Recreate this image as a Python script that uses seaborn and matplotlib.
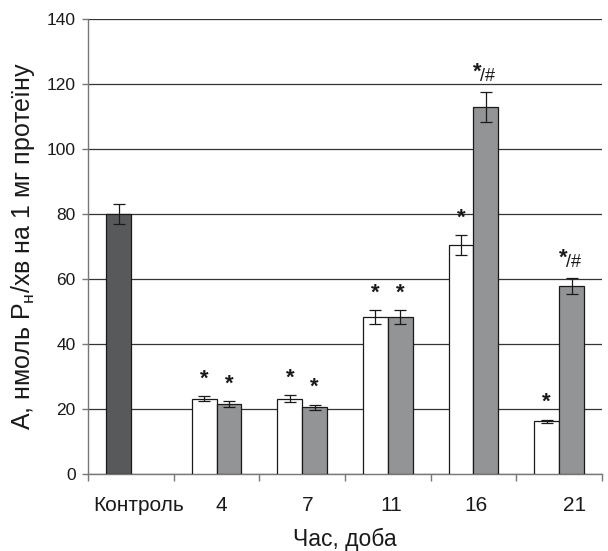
import numpy as np
import pandas as pd
import matplotlib
matplotlib.use("Agg")
import matplotlib.pyplot as plt
import matplotlib.transforms as mtransforms
import seaborn as sns

categories = ["Контроль", "4", "7", "11", "16", "21"]
series = ["A", "B"]
values_a = [80.0, 23.1, 23.1, 48.3, 70.5, 16.2]
errors_a = [3.0, 0.8, 1.1, 2.1, 3.0, 0.5]
values_b = [np.nan, 21.5, 20.5, 48.3, 113.0, 57.9]
errors_b = [np.nan, 0.8, 0.8, 2.1, 4.6, 2.4]
labels_a = ["", "*", "*", "*", "*", "*"]
labels_b = ["", "*", "*", "*", "*/#", "*/#"]

sns.set_theme(style="white")
plt.rcParams["font.family"] = ["Liberation Sans", "DejaVu Sans"]
plt.rcParams["mathtext.fontset"] = "custom"
plt.rcParams["mathtext.rm"] = "Liberation Sans"

rows = []
for c, va, ea, la, vb, eb, lb in zip(categories, values_a, errors_a, labels_a, values_b, errors_b, labels_b):
    rows.append(dict(cat=c, ser="A", val=va, err=ea, lab=la))
    if not np.isnan(vb):
        rows.append(dict(cat=c, ser="B", val=vb, err=eb, lab=lb))
df = pd.DataFrame(rows)

fig = plt.figure(figsize=(6.08, 5.51), dpi=100)
ax = fig.add_axes([0.145, 0.14, 0.845, 0.825])

sns.barplot(data=df, x="cat", y="val", hue="ser", order=categories, hue_order=series,
            palette={"A": "white", "B": "#939497"}, width=0.58, dodge=True,
            edgecolor="#1a1a1a", linewidth=0.9, errorbar=None, legend=False, ax=ax, zorder=3)

ink = "#1a1a1a"
lookup = {(r.cat, r.ser): r for r in df.itertuples()}
for ser, cont in zip(series, ax.containers):
    for bar in cont:
        h = bar.get_height()
        if np.isnan(h) or h == 0:
            continue
        xc = bar.get_x() + bar.get_width() / 2
        ci = int(round(xc))
        r = lookup.get((categories[ci], ser))
        if r is None:
            continue
        if r.cat == "Контроль":
            bar.set_facecolor("#58595b")
        ax.errorbar(xc, r.val, yerr=r.err, fmt="none", ecolor=ink,
                    elinewidth=0.9, capsize=4, capthick=0.9, zorder=4)
        top = (xc, r.val + r.err)
        if r.lab == "*":
            ax.annotate("*", top, xytext=(0, 5), textcoords="offset points",
                        ha="center", va="bottom", fontsize=16, fontweight="bold", color=ink)
        elif r.lab:
            star, rest = r.lab[0], r.lab[1:]
            ax.annotate(star, top, xytext=(-3, 7), textcoords="offset points",
                        ha="right", va="bottom", fontsize=16, fontweight="bold", color=ink)
            ax.annotate(rest, top, xytext=(-4, 5), textcoords="offset points",
                        ha="left", va="bottom", fontsize=13, color=ink)

ax.set_ylim(0, 140)
ax.set_xlim(-0.5, 5.45)
ax.set_yticks(np.arange(0, 141, 20))
ax.yaxis.grid(True, color="#333333", linewidth=0.9)
ax.set_axisbelow(True)

for s in ["top", "right"]:
    ax.spines[s].set_visible(False)
for s in ["left", "bottom"]:
    ax.spines[s].set_color("#777777")
    ax.spines[s].set_linewidth(1.0)

ax.set_xticks(range(len(categories)))
ax.set_xticklabels(categories)
ax.set_xticks(np.arange(-0.5, 5.6, 1.0), minor=True)
ax.tick_params(axis="x", which="major", length=0, pad=16, labelsize=15, colors=ink)
ax.tick_params(axis="x", which="minor", length=5, width=1, color="#777777", direction="out", bottom=True)
ax.tick_params(axis="y", which="major", length=4, width=1, color="#777777", direction="out",
               left=True, pad=5, labelsize=12.5, labelcolor=ink)

label_shift_px = [8, 5, 5, 3, 3, 15]
for lbl, dx in zip(ax.get_xticklabels(), label_shift_px):
    lbl.set_transform(lbl.get_transform() + mtransforms.ScaledTranslation(dx / 100, 0, fig.dpi_scale_trans))

ax.set_xlabel("Час, доба", fontsize=16.5, labelpad=9, color=ink)
ax.set_ylabel("А, нмоль P$_\\mathregular{н}$/хв на 1 мг протеїну", fontsize=18, labelpad=7, color=ink)

fig.savefig("out.png", dpi=100, facecolor="white")
